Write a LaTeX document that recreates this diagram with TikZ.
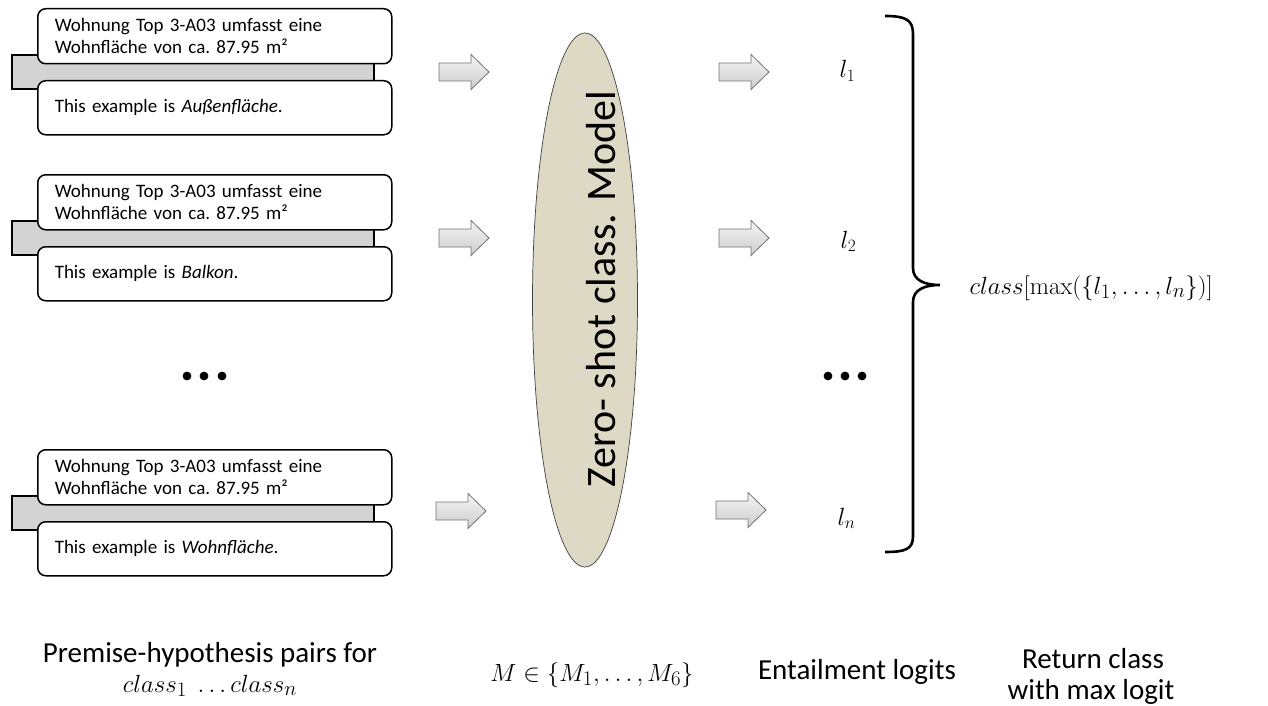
\documentclass[tikz,border=0pt]{standalone}
\usepackage[no-math]{fontspec}
\setmainfont{Carlito}
\usetikzlibrary{shapes.geometric}
\definecolor{modelfill}{RGB}{221,217,196}
\definecolor{stripfill}{RGB}{211,211,211}
\definecolor{arrowedge}{RGB}{115,115,115}
\newcommand{\blockarrow}[2]{%
  \draw[blockarr] (#1-25,#2-9) -- (#1+7,#2-9) -- (#1+7,#2-17.5) -- (#1+25,#2)
    -- (#1+7,#2+17.5) -- (#1+7,#2+9) -- (#1-25,#2+9) -- cycle;}
\newcommand{\pairgroup}[3]{%
  % gray connector strip behind the two text cards
  \draw[strip] (12,#1+47) rectangle (374,#1+81);
  \node[card] (#2a) at (37,#1) {Wohnung Top 3-A03 umfasst eine\\Wohnfläche von ca.\ 87.95 m²};
  \node[card, minimum height=54pt] (#2b) at (37,#1+72) {This example is \textit{#3}.};}
\begin{document}
\begin{tikzpicture}[x=1pt,y=-1pt,
  card/.style={draw, line width=1.5pt, rounded corners=8pt, fill=white,
    minimum width=354pt, minimum height=55pt, text width=320pt, inner xsep=17pt,
    align=left, anchor=north west, font=\fontsize{19}{22}\selectfont},
  strip/.style={draw, line width=1.5pt, fill=stripfill},
  blockarr/.style={draw=arrowedge, line width=0.8pt, top color=gray!8, bottom color=gray!40},
  caption/.style={anchor=base, font=\fontsize{29}{32}\selectfont},
  logit/.style={anchor=base west, font=\fontsize{26}{28}\selectfont},
  dot/.style={fill=black}]
\useasboundingbox (0,0) rectangle (1268,706);

% premise-hypothesis pairs
\pairgroup{8}{g1}{Außenfläche}
\pairgroup{174}{g2}{Balkon}
\pairgroup{449}{g3}{Wohnfläche}

% vertical ellipsis between the pairs
\fill[dot] (187,376) circle (4.4pt);
\fill[dot] (204,376) circle (4.4pt);
\fill[dot] (222,376) circle (4.4pt);

% arrows into the model
\blockarrow{464}{72}
\blockarrow{464}{238}
\blockarrow{461}{511}

% zero-shot classification model
\node[ellipse, draw=black!75, line width=0.7pt, fill=modelfill,
  minimum width=105pt, minimum height=534pt] (model) at (585,300) {};
\node[rotate=90, font=\fontsize{42}{42}\selectfont] (modeltext) at (601,289) {Zero- shot class. Model};

% arrows out of the model
\blockarrow{744}{72}
\blockarrow{744}{238}
\blockarrow{741}{510}

% entailment logits
\node[logit] (l1) at (836,78) {$l_1$};
\node[logit] (l2) at (837,248) {$l_2$};
\node[logit] (ln) at (834,525) {$l_n$};
\fill[dot] (828,376) circle (4.4pt);
\fill[dot] (845,376) circle (4.4pt);
\fill[dot] (862,376) circle (4.4pt);

% brace collecting the logits
\draw[line width=2.6pt] (885,16) .. controls (906,16) and (913,20) .. (913,34)
  -- (913,268) .. controls (913,280) and (924,285) .. (940,285)
  .. controls (924,285) and (913,290) .. (913,302)
  -- (913,536) .. controls (913,549) and (906,552) .. (885,552);

\node[anchor=base west, font=\fontsize{30}{32}\selectfont] (result) at (966,294)
  {$class[\max(\{l_1,\ldots,l_n\})]$};

% captions
\node[caption] (cap1) at (210,662) {Premise-hypothesis pairs for};
\node[caption] (cap1b) at (210,692) {$class_1\ \ldots class_n$};
\node[caption] (cap2) at (592,681) {$M\in\{M_1,\ldots,M_6\}$};
\node[caption] (cap3) at (857,679) {Entailment logits};
\node[caption] (cap4) at (1093,668) {Return class};
\node[caption] (cap4b) at (1091,699) {with max logit};
\end{tikzpicture}
\end{document}
